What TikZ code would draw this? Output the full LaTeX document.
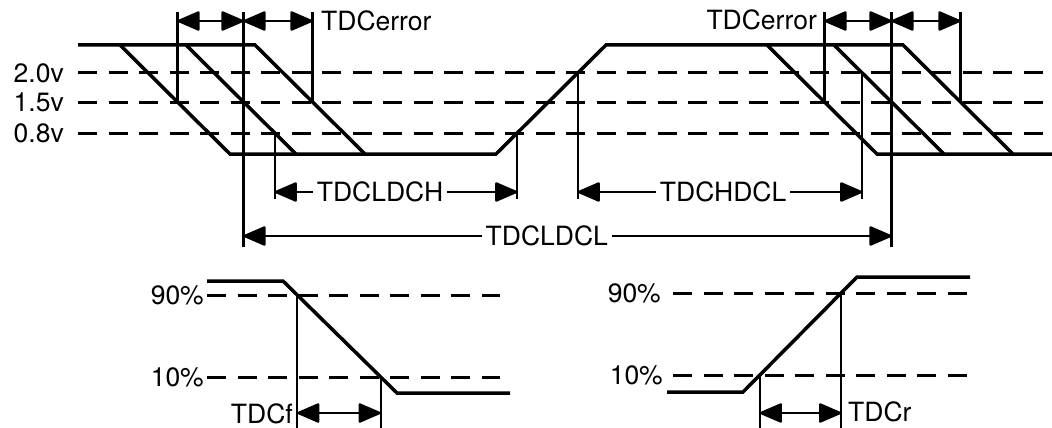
\documentclass[tikz,border=0pt]{standalone}
\usepackage{fontspec}
\setmainfont{TeX Gyre Heros}
\usetikzlibrary{arrows.meta}
\newcommand{\lblfont}{\fontsize{26.5}{28}\selectfont}
\tikzset{
  wave/.style={line width=3.5pt, line join=miter},
  level/.style={line width=3pt, dash pattern=on 19pt off 11.5pt},
  guide/.style={line width=2.2pt},
  dim/.style={line width=2.4pt, {Triangle[length=24pt,width=20pt,round]}-{Triangle[length=24pt,width=20pt,round]}},
  lbl/.style={font=\lblfont, inner sep=0pt},
  gap/.style={font=\lblfont, fill=white, inner xsep=4pt, inner ysep=0pt}
}
\begin{document}
\begin{tikzpicture}[x=1pt, y=-1pt]
\useasboundingbox[fill=white] (0,0) rectangle (1052,428);
\coordinate (ytop) at (0,12);
\coordinate (yerr) at (0,21);
\coordinate (ydh) at (0,192);
\coordinate (ydhe) at (0,199);
\coordinate (ydl) at (0,236);
\coordinate (ydle) at (0,247);
\coordinate (ybot) at (0,428);
\coordinate (yf) at (0,413);
% threshold levels
\draw[level] (78,73) -- (1052,73);
\draw[level] (78,102) -- (1052,102);
\draw[level] (78,133) -- (1052,133);
\node[lbl, anchor=east] (v20) at (64,73) {2.0v};
\node[lbl, anchor=east] (v15) at (64,102) {1.5v};
\node[lbl, anchor=east] (v08) at (64,133) {0.8v};
% signal
\draw[wave] (78,45) -- (255,45) -- (365,154) coordinate[pos=.523] (e3m) -- (496,154)
  -- (606,45) coordinate[pos=.193] (rlo) coordinate[pos=.743] (rhi) -- (903,45)
  -- (1013,154) coordinate[pos=.523] (ecm) -- (1052,154);
\draw[wave] (120,45) -- (230,154) coordinate[pos=.523] (e1m) -- (365,154);
\draw[wave] (186,45) -- (296,154) coordinate[pos=.523] (e2m) coordinate[pos=.807] (e2lo);
\draw[wave] (767,45) -- (877,154) coordinate[pos=.523] (eam) -- (1013,154);
\draw[wave] (834,45) -- (944,154) coordinate[pos=.257] (ebhi) coordinate[pos=.523] (ebm);
% guides
\draw[guide] (e1m) -- (e1m |- ytop);
\draw[guide] (e2m |- ytop) -- (e2m |- ydle);
\draw[guide] (e3m) -- (e3m |- ytop);
\draw[guide] (eam) -- (eam |- ytop);
\draw[guide] (ebm |- ytop) -- (ebm |- ydle);
\draw[guide] (ecm) -- (ecm |- ytop);
\draw[guide] (e2lo) -- (e2lo |- ydhe);
\draw[guide] (rlo) -- (rlo |- ydhe);
\draw[guide] (rhi) -- (rhi |- ydhe);
\draw[guide] (ebhi) -- (ebhi |- ydhe);
% error windows
\draw[dim] (e1m |- yerr) -- (e2m |- yerr);
\draw[dim] (e2m |- yerr) -- (e3m |- yerr);
\draw[dim] (eam |- yerr) -- (ebm |- yerr);
\draw[dim] (ebm |- yerr) -- (ecm |- yerr);
\node[lbl, anchor=west] (errl) at (321,21) {TDCerror};
\node[lbl, anchor=east] (errr) at (817,20) {TDCerror};
% periods
\draw[dim] (e2lo |- ydh) -- node[gap, pos=.434] (ldch) {TDCLDCH} (rlo |- ydh);
\draw[dim] (rhi |- ydh) -- node[gap, pos=.511] (hdcl) {TDCHDCL} (ebhi |- ydh);
\draw[dim] (e2m |- ydl) -- node[gap, pos=.468] (ldcl) {TDCLDCL} (ebm |- ydl);
% fall time
\draw[level] (207,295) -- (500,295);
\draw[level] (207,377) -- (500,377);
\node[lbl, anchor=east] (f90n) at (204,295) {90\%};
\node[lbl, anchor=east] (f10n) at (204,377) {10\%};
\draw[wave] (207,281) -- (283,281) -- (397,393) coordinate[pos=.125] (f90) coordinate[pos=.857] (f10) -- (510,393);
\draw[guide] (f90) -- (f90 |- ybot);
\draw[guide] (f10) -- (f10 |- ybot);
\draw[dim] (f90 |- yf) -- (f10 |- yf);
\node[lbl, anchor=east] (tf) at (293,414) {TDCf};
% rise time
\draw[level] (673,293) -- (970,293);
\draw[level] (673,375) -- (970,375);
\node[lbl, anchor=east] (r90n) at (661,293) {90\%};
\node[lbl, anchor=east] (r10n) at (663,375) {10\%};
\draw[wave] (667,392) -- (743,392) -- (857,277) coordinate[pos=.148] (r10) coordinate[pos=.861] (r90) -- (970,277);
\draw[guide] (r10) -- (r10 |- ybot);
\draw[guide] (r90) -- (r90 |- ybot);
\draw[dim] (r10 |- yf) -- (r90 |- yf);
\node[lbl, anchor=west] (tr) at (848,412) {TDCr};
\end{tikzpicture}
\end{document}
